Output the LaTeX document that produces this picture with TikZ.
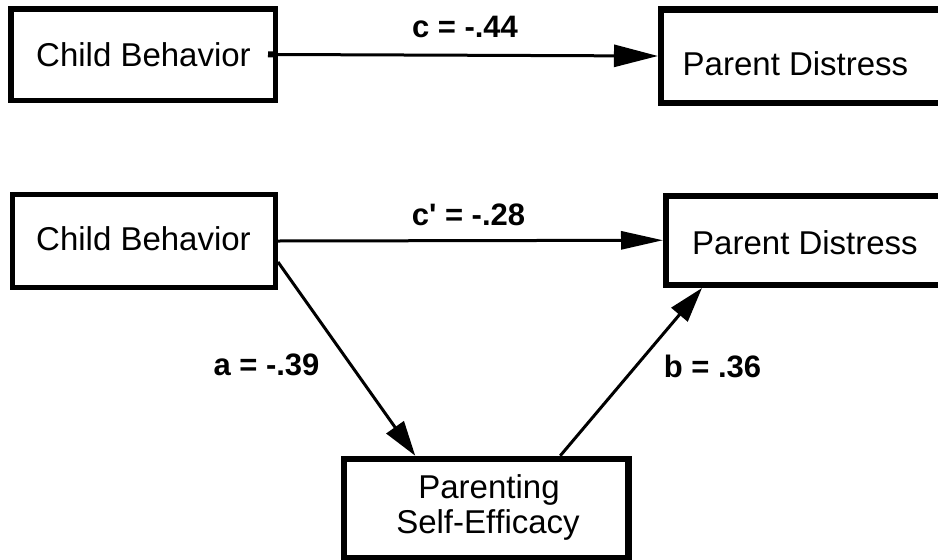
\documentclass[tikz,border=0pt]{standalone}
\usepackage{fontspec}
\setmainfont[Ligatures=NoCommon]{Liberation Sans}
\usetikzlibrary{arrows.meta}
\begin{document}
\begin{tikzpicture}[x=1pt,y=-1pt,
  box/.style={draw=black, rectangle, inner sep=0pt, fill=white},
  txt/.style={inner sep=0pt, font=\fontsize{33}{39}\selectfont, anchor=base},
  txtsm/.style={inner sep=0pt, font=\fontsize{33}{39}\selectfont, anchor=base},
  lbl/.style={inner sep=0pt, font=\fontsize{31}{37}\selectfont\bfseries, anchor=base},
  conn/.style={draw=black, line width=3pt}
]
\useasboundingbox (0,0) rectangle (938,560);
% boxes
\node[box, line width=5.5pt, outer sep=2.75pt, minimum width=264.5pt, minimum height=91.5pt] (cb1) at (143,54.5) {};
\node[box, line width=6.5pt, outer sep=3.25pt, minimum width=283.75pt, minimum height=93.5pt] (pd1) at (803.1,56) {};
\node[box, line width=5pt, outer sep=2.5pt, minimum width=263pt, minimum height=93pt] (cb2) at (144,241) {};
\node[box, line width=6pt, outer sep=3pt, minimum width=279pt, minimum height=89.5pt] (pd2) at (805.5,240.25) {};
\node[box, line width=6.5pt, outer sep=3.25pt, minimum width=284.5pt, minimum height=99.5pt] (pse) at (486.25,508.75) {};
% texts
\node[txt] (t1) at (143.5,66) {Child Behavior};
\node[txt] (t2) at (795.5,75) {Parent Distress};
\node[txt] (t3) at (143.5,250) {Child Behavior};
\node[txt] (t4) at (805,254) {Parent Distress};
\node[txtsm] (t5) at (489,498) {Parenting};
\node[txtsm] (t6) at (488,533) {Self-Ef\kern0ptf\kern0pticacy};
% labels
\node[lbl] (lc) at (465,37) {c = -.44};
\node[lbl] (lcp) at (468.5,225) {c\textquotesingle{} = -.28};
\node[lbl] (la) at (266.5,375) {a = -.39};
\node[lbl] (lb) at (712.5,377) {b = .36};
% connectors
\draw[conn, {Square[length=8pt,width=6pt]}-{Triangle[length=44pt,width=22pt]}, shorten <=-10pt] (cb1.east) -- (pd1.west);
\draw[conn, -{Triangle[length=42pt,width=18pt]}] (cb2.east) -- (pd2.west);
\draw[conn, -{Triangle[length=35pt,width=21pt]}] ([yshift=-21pt]cb2.east) -- ([xshift=-71pt]pse.north);
\draw[conn, -{Triangle[length=35pt,width=21pt]}] ([xshift=74pt]pse.north) -- ([xshift=-103.5pt]pd2.south);
\end{tikzpicture}
\end{document}
